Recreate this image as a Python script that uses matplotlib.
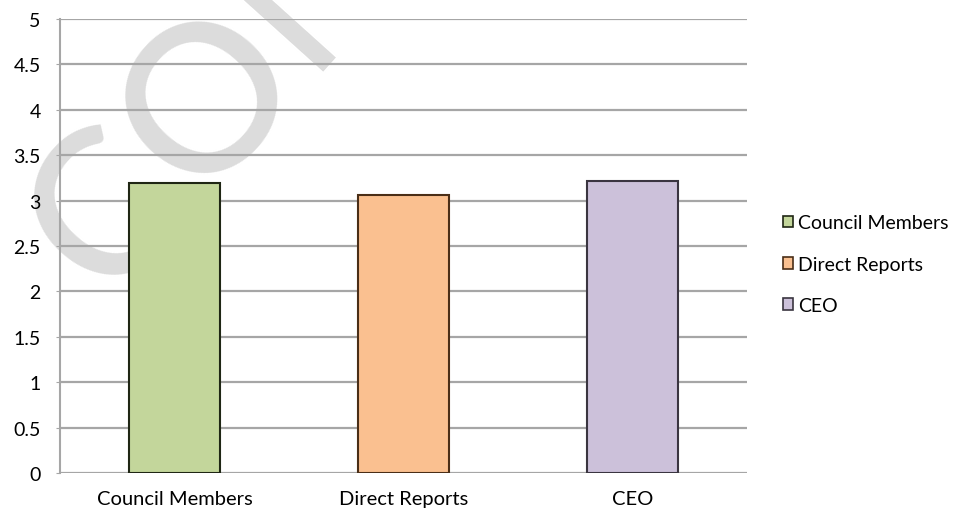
import matplotlib
matplotlib.use('Agg')
import matplotlib.pyplot as plt
from matplotlib.patches import Patch

plt.rcParams['font.family'] = ['Lato', 'DejaVu Sans']

# average ratings by group
groups = ['Council Members', 'Direct Reports', 'CEO']
scores = [3.19, 3.06, 3.21]
fills = ['#C3D69B', '#FAC090', '#CCC1DA']
edges = ['#1f2614', '#4a2e17', '#3a3540']
yticks = [0, 0.5, 1, 1.5, 2, 2.5, 3, 3.5, 4, 4.5, 5]

fig = plt.figure(figsize=(9.6, 5.1), dpi=100)

# watermark behind the chart
fig.text(0.112, 0.408, 'CONFIDENTIAL', fontsize=148, color='#DCDCDC',
         rotation=48, rotation_mode='anchor', ha='left', va='baseline',
         zorder=0, fontweight='medium')

ax = fig.add_axes([0.0625, 0.0706, 0.7155, 0.8904])
ax.patch.set_alpha(0)
ax.set_zorder(1)

x = range(len(groups))
ax.bar(x, scores, width=0.4, color=fills, edgecolor=edges, linewidth=1.5, zorder=3)

ax.set_xlim(-0.5, 2.5)
ax.set_ylim(0, 5)
ax.set_yticks(yticks)
ax.set_yticklabels([f'{t:g}' for t in yticks])
ax.set_xticks(list(x))
ax.set_xticklabels(groups)
ax.yaxis.grid(True, color='#A6A6A6', linewidth=1.6, zorder=1)
ax.set_axisbelow(True)

for s in ['top', 'right', 'bottom']:
    ax.spines[s].set_visible(False)
ax.spines['left'].set_color('#A6A6A6')
ax.spines['left'].set_linewidth(1.5)
ax.tick_params(axis='y', length=3, color='#A6A6A6', labelsize=14, pad=11)
ax.tick_params(axis='x', length=0, labelsize=14.5, pad=12)

handles = [Patch(facecolor=f, edgecolor=e, linewidth=1.2) for f, e in zip(fills, edges)]
fig.legend(handles, groups, loc='center left', bbox_to_anchor=(0.797, 0.48),
           frameon=False, fontsize=14, labelspacing=1.25,
           handlelength=0.55, handleheight=0.55, handletextpad=0.25)

fig.savefig('out.png', dpi=100)
